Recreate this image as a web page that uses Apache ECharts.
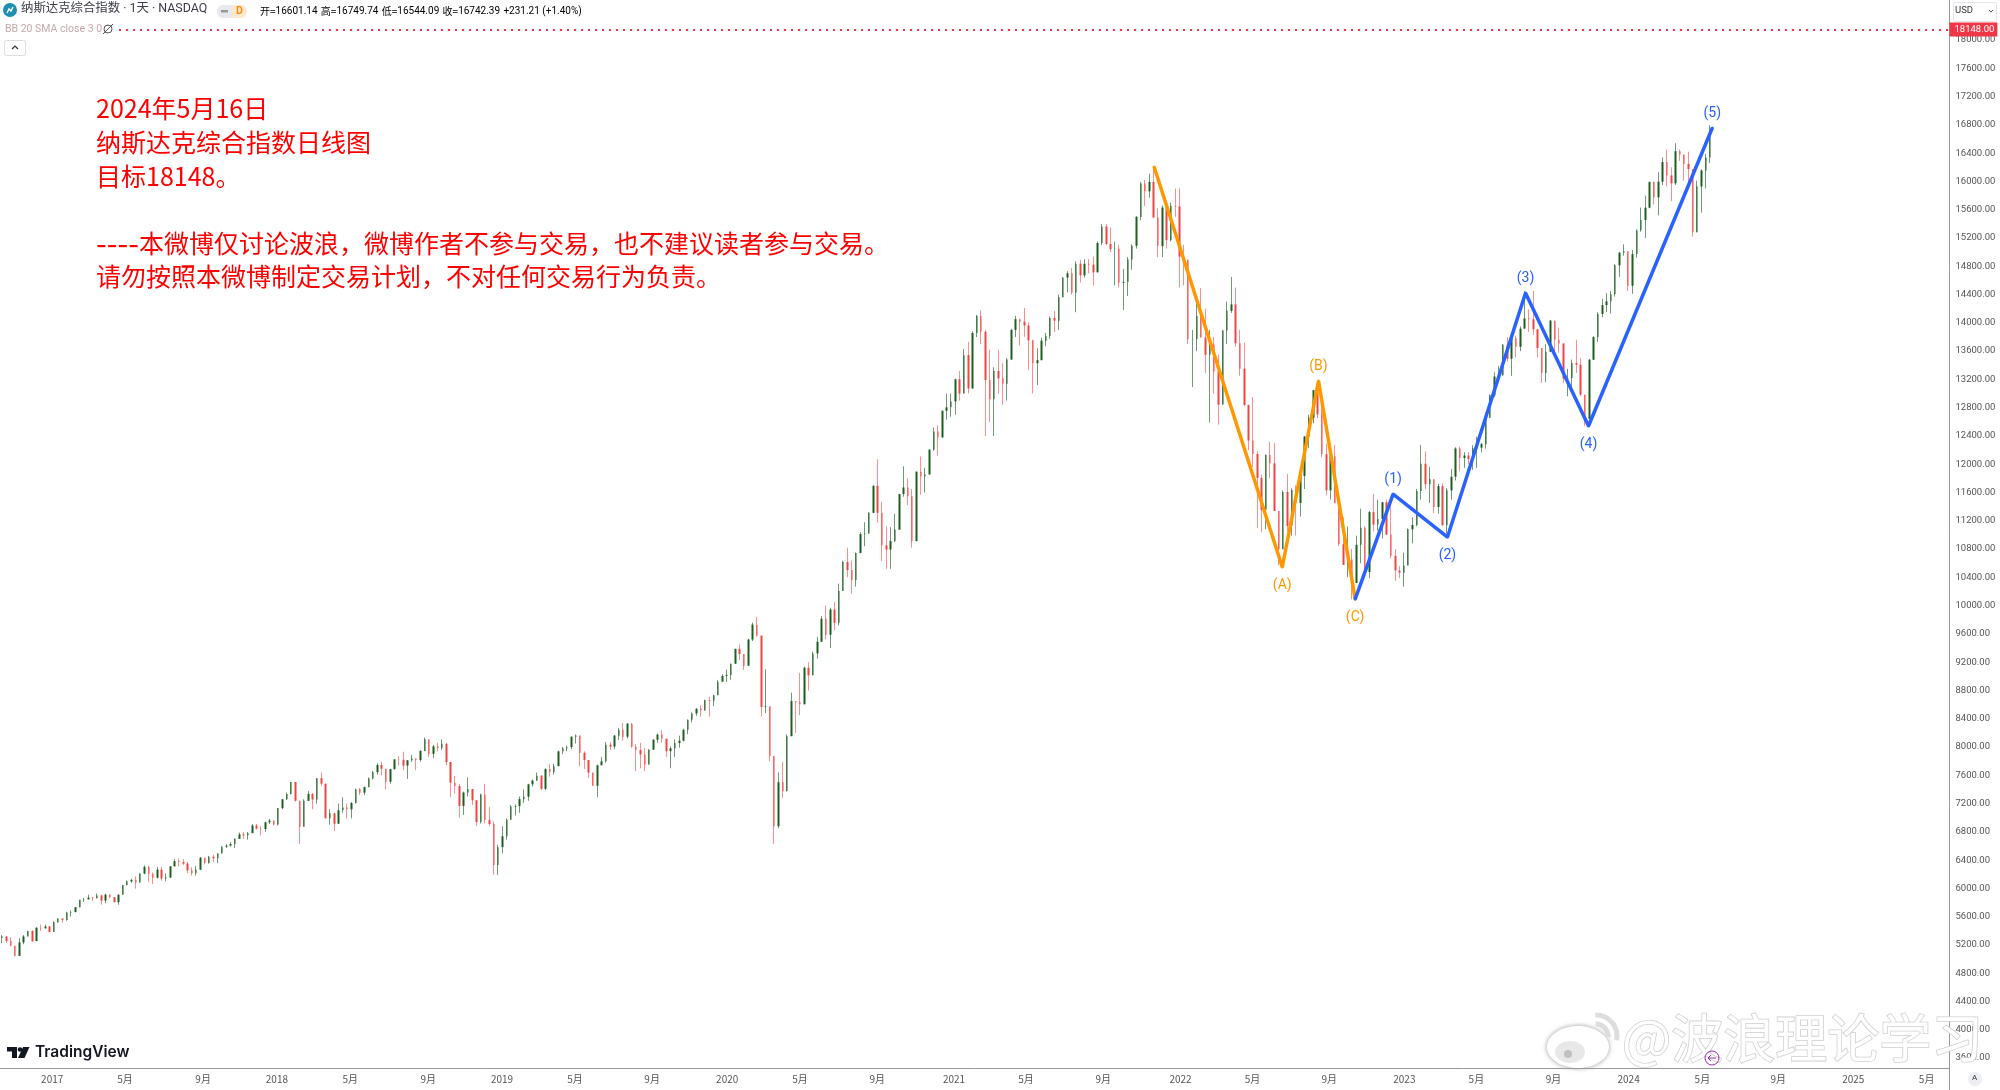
<!DOCTYPE html>
<html><head><meta charset="utf-8">
<style>html,body{margin:0;padding:0;background:#fff}#c{width:2000px;height:1090px}</style>
<script src="https://cdn.jsdelivr.net/npm/echarts@6/dist/echarts.min.js"></script>
</head><body><div id="c"></div>
<script>
// weekly bars; first Monday 2016-10-10
const firstOpen = 5300;
const close2016=[5320,5257,5190,5046,5237,5321,5398,5255,5444,5437,5462,5383];
const high2016=[5340,5320,5310,5190,5300,5340,5400,5410,5450,5490,5487,5470];
const low2016=[5225,5230,5180,5034,5060,5210,5340,5240,5260,5400,5430,5380];
const close2017=[5521,5574,5555,5660,5666,5734,5838,5845,5870,5861,5901,5828,5911,5877,5805,5910,6047,6100,6121,6083,6210,6305,6207,6151,6265,6140,6153,6312,6387,6374,6351,6256,6216,6265,6435,6360,6448,6426,6495,6590,6606,6629,6701,6764,6751,6782,6889,6847,6840,6936,6959,6903];
const high2017=[5536,5577,5574,5670,5690,5736,5840,5866,5911,5876,5928,5915,5928,5920,5868,5917,6050,6113,6137,6170,6212,6325,6317,6226,6303,6304,6212,6316,6411,6422,6415,6375,6301,6316,6444,6401,6459,6475,6499,6596,6625,6654,6708,6790,6795,6799,6911,6914,6880,6945,6985,6960];
const low2017=[5398,5514,5517,5543,5602,5660,5738,5810,5847,5820,5858,5769,5790,5860,5804,5770,5965,6040,6080,5996,6090,6200,6090,6060,6140,6110,6100,6150,6330,6310,6330,6216,6180,6180,6280,6340,6350,6370,6360,6500,6570,6590,6570,6720,6700,6690,6800,6830,6750,6800,6910,6890];
const close2018=[7136,7261,7336,7505,7240,6874,7239,7337,7257,7560,7481,6992,7063,6915,7106,7146,7119,7209,7402,7354,7433,7554,7645,7746,7692,7510,7688,7825,7820,7737,7812,7839,7816,7945,8109,7903,8010,7986,8046,7788,7496,7449,7167,7356,7406,7247,6938,7330,6969,6910,6333,6584,6738];
const high2018=[7137,7265,7356,7506,7480,7240,7260,7380,7350,7560,7637,7460,7120,7070,7200,7290,7200,7220,7410,7420,7440,7570,7660,7770,7790,7660,7690,7830,7870,7933,7815,7890,7830,7955,8135,8110,8030,8060,8110,8060,7790,7590,7480,7370,7570,7360,7190,7340,7480,7150,6950,6620,6880];
const low2018=[6890,7120,7250,7330,7230,6630,6890,7250,7120,7200,7450,6990,6900,6810,6990,7070,6990,6990,7200,7320,7320,7430,7540,7610,7600,7400,7480,7680,7740,7670,7550,7790,7670,7790,7940,7860,7840,7940,7960,7740,7290,7340,7000,7040,7300,7180,6880,6920,6920,6880,6190,6190,6500];
const close2019=[6971,7157,7164,7263,7298,7472,7527,7595,7408,7688,7642,7729,7939,7984,7998,8146,8164,7917,7816,7637,7453,7742,7797,8032,8006,8161,8244,8146,8330,8004,7959,7895,7751,7963,8103,8176,8117,7940,7982,8057,8089,8243,8386,8475,8540,8519,8665,8656,8734,8924,9006,9020];
const high2019=[6990,7180,7190,7300,7400,7480,7540,7640,7600,7700,7760,7760,7950,8000,8020,8150,8176,8040,7940,7780,7640,7750,7860,8070,8070,8170,8270,8340,8340,8340,8040,8060,7990,7970,8110,8190,8240,8050,8010,8110,8160,8260,8390,8490,8550,8590,8670,8710,8740,8950,9030,9095];
const low2019=[6690,6970,7030,7070,7210,7240,7440,7520,7390,7390,7580,7610,7780,7900,7940,7970,8050,7730,7690,7560,7450,7290,7750,7780,7960,7970,8100,8090,8120,7990,7660,7700,7660,7790,7960,8060,8060,7860,7700,7860,7990,8080,8180,8350,8440,8430,8510,8430,8580,8740,8930,8920];
const close2020=[9178,9388,9314,9150,9520,9731,9576,8567,8575,7874,6879,7502,7373,8153,8650,8634,8604,9121,9014,9324,9489,9814,9588,9946,9757,10207,10617,10503,10363,10745,11011,11019,11312,11695,11313,10853,10793,10913,11075,11579,11671,11548,10912,11895,11829,11855,12206,12464,12378,12756,12805,12888];
const high2020=[9180,9390,9450,9310,9530,9760,9840,9420,9100,8340,7620,7640,7790,8180,8770,8640,9050,9140,9200,9350,9560,9850,10000,9970,10050,10310,10630,10820,10640,10750,11040,11180,11320,11700,12070,11470,11120,11110,11300,11580,11970,11800,11650,11890,12110,11950,12210,12520,12550,12760,13000,13000];
const low2020=[8950,9190,9230,9090,9240,9500,9560,8430,8480,7800,6630,6850,7280,7400,8330,8200,8450,8700,8800,9150,9250,9500,9520,9400,9650,9720,10230,10400,10170,10270,10740,10840,11060,11320,11170,10630,10520,10520,10900,11140,11540,11420,10820,11020,11570,11600,11930,12190,12120,12520,12630,12670];
const close2021=[13202,12999,13543,13071,13856,14095,13874,13192,12920,13319,13215,13138,13480,13900,14052,14016,13962,13752,13429,13471,13748,13814,14069,14030,14360,14639,14701,14427,14836,14672,14835,14822,14714,15129,15363,15115,15043,15047,14566,14579,14897,15090,15498,15971,15860,15993,15491,15085,15630,15169,15653,15645];
const high2021=[13210,13320,13630,13730,13880,14110,14175,13900,13620,13370,13620,13430,13500,13910,14100,14060,14210,14010,13760,13640,13790,13860,14090,14170,14400,14650,14730,14780,14870,14890,14900,14900,14940,15150,15400,15400,15350,15150,15100,14760,14930,15110,15510,15990,16020,16110,16210,15620,15660,15660,15700,15900];
const low2021=[12700,12900,13000,13000,13200,13800,13700,12400,12600,12400,13000,12840,12900,13500,13800,13680,13800,13330,13000,13120,13480,13670,13770,13870,13900,14360,14430,14400,14150,14570,14640,14700,14530,14730,15100,15100,15000,14530,14500,14180,14380,14750,15050,15450,15650,15770,15480,14930,14930,15050,15150,15500];
const close2022=[14936,14893,13768,13770,14098,13791,13548,13694,13313,12843,13893,14169,14261,13711,13351,12839,12335,12145,11805,11355,12131,12013,11340,10798,11608,11128,11635,11452,11834,12391,12658,13047,12705,12141,11631,12112,11448,10868,10576,10652,10321,10860,11103,10475,11323,11146,11226,11462,11005,10705,10497,10466];
const high2022=[15900,15100,14600,13900,14300,14490,14200,13900,13800,13550,13900,14300,14650,14500,13900,13720,12750,12950,12180,11850,12140,12320,12300,11340,11630,11860,11660,11700,11860,12400,12700,13050,13180,12800,12290,12270,12270,11430,11250,11120,10800,10990,11370,11120,11340,11580,11500,11470,11500,11470,10800,10560];
const low2022=[14500,14530,13700,13090,13600,13790,13290,12590,13000,12560,12870,13700,14140,13660,13250,12820,12200,11960,11100,11040,11080,11800,11340,10570,10840,11050,10990,10990,11260,11650,12230,12580,12650,12100,11560,11500,11450,10840,10620,10400,10090,10370,10600,10390,10390,11050,11060,10950,11000,10670,10350,10390];
const close2023=[10569,11079,11140,11622,12006,11718,11787,11395,11689,11138,11631,11823,12222,12088,12123,12072,12226,12235,12284,12657,12975,13240,13259,13689,13492,13787,13660,13918,14063,14050,13909,13644,13290,13590,14031,13761,13708,13212,13219,13431,13407,12983,12643,13478,13798,14125,14250,14305,14403,14813,14992,15011];
const high2023=[10750,11090,11250,11650,12270,12180,11960,11580,11720,11730,11660,11930,12240,12250,12170,12170,12270,12390,12300,12730,12990,13300,13390,13700,13800,13820,13820,13950,14450,14190,14450,13900,13480,13700,14040,14020,13930,13600,13350,13480,13760,13500,12880,13490,13810,14150,14340,14420,14450,14830,15000,15110];
const low2023=[10270,10570,10880,11120,11500,11650,11450,11310,11300,11120,11020,11500,11770,11900,11950,12000,11920,11950,12170,12220,12700,12950,13200,13250,13450,13250,13510,13600,13940,13870,13830,13510,13150,13160,13620,13560,13580,13150,12960,13060,13290,12960,12540,12700,13500,13730,14080,14150,14130,14370,14650,14950];
const close2024=[14524,14972,15311,15455,15628,15990,15775,15996,16274,16085,15973,16428,16379,16248,16175,15282,15928,16156,16340,16686];
const high2024=[15000,15030,15320,15630,15800,16000,16000,16130,16340,16450,16200,16540,16450,16300,16420,16170,16010,16170,16390,16795];
const low2024=[14450,14410,14920,15290,15200,15620,15670,15520,15950,15930,15720,15950,16290,16010,16000,15220,15280,15560,15900,16260];

const yTickValues=[18000,17600,17200,16800,16400,16000,15600,15200,14800,14400,14000,13600,13200,12800,12400,12000,11600,11200,10800,10400,10000,9600,9200,8800,8400,8000,7600,7200,6800,6400,6000,5600,5200,4800,4400,4000,3600];
const xTickLabels=['2017','5月','9月','2018','5月','9月','2019','5月','9月','2020','5月','9月','2021','5月','9月','2022','5月','9月','2023','5月','9月','2024','5月','9月','2025','5月'];
const xTickWeeks=[11.6,28.5,46.6,63.7,80.7,98.8,115.9,132.8,150.7,168.1,185,202.9,220.7,237.4,255.3,273.2,289.9,307.7,325.1,341.8,359.7,377.1,394.2,411.8,429.2,446.2];

const orangeWeeks=[267.1,296.8,305.2,313.7];
const orangeValues=[16204,10546,13177,10093];
const orangeNames=['','(A)','(B)','(C)'];
const orangeSides=['top','bottom','top','bottom'];
const blueWeeks=[313.7,322.5,335.1,353.2,367.8,396.5];
const blueValues=[10093,11578,10970,14421,12540,16755];
const blueNames=['','(1)','(2)','(3)','(4)','(5)'];
const blueSides=['top','top','bottom','top','bottom','top'];

const targetValue=18148;
const noteLines=['2024年5月16日','纳斯达克综合指数日线图','目标18148。','','----本微博仅讨论波浪，微博作者不参与交易，也不建议读者参与交易。','请勿按照本微博制定交易计划，不对任何交易行为负责。'];

const totalWeeks=452;
const closes=[].concat(close2016,close2017,close2018,close2019,close2020,close2021,close2022,close2023,close2024);
const highs=[].concat(high2016,high2017,high2018,high2019,high2020,high2021,high2022,high2023,high2024);
const lows=[].concat(low2016,low2017,low2018,low2019,low2020,low2021,low2022,low2023,low2024);
if(closes.length!==highs.length||closes.length!==lows.length) throw new Error('len '+closes.length+' '+highs.length+' '+lows.length);
const cats=[];
for(let i=0;i<totalWeeks;i++){cats.push(new Date(Date.UTC(2016,9,10+7*i)).toISOString().slice(0,10));}
const wicks=[],bodies=[];
closes.forEach((c,i)=>{
  const o=i?closes[i-1]:firstOpen;
  const h=Math.max(highs[i],o,c),l=Math.min(lows[i],o,c);
  wicks.push([o,c,l,h]);
  bodies.push([o,c,Math.min(o,c),Math.max(o,c)]);
});
const mk=(xs,vs,names,sides,col)=>xs.map((x,i)=>({value:[x,vs[i]],label:{show:!!names[i],formatter:names[i]||'',position:sides[i],distance:sides[i]==='bottom'?9.5:6.5,color:col,fontSize:14,fontFamily:'Roboto,sans-serif'}}));
const FONT='"Noto Sans CJK SC",Roboto,sans-serif';
const chart=echarts.init(document.getElementById('c'),null,{renderer:'canvas'});
const noteRich=noteLines.map(l=>l.replace(/^-+/,m=>'{h|'+m+'}')).join('\n');
const G=[
 // header
 {type:'rect',z:50,shape:{x:0,y:0,width:116,height:36},style:{fill:'#fff'}},
 {type:'circle',z:51,shape:{cx:10,cy:10,r:7},style:{fill:'#1e8fb0'}},
 {type:'polyline',z:52,shape:{points:[[7,13],[9,9],[11,11],[13,7]]},style:{stroke:'#fff',lineWidth:1.4,fill:null}},
 {type:'text',z:51,x:21,y:3,style:{text:'纳斯达克综合指数 · 1天 · NASDAQ',font:'12.4px Roboto,"Noto Sans CJK SC",sans-serif',fill:'#3a3d47'}},
 {type:'rect',z:51,shape:{x:217,y:5,width:30,height:13,r:6.5},style:{fill:'#fde9cf'}},
 {type:'rect',z:52,shape:{x:217,y:5,width:15,height:13,r:[6.5,0,0,6.5]},style:{fill:'#e8e9ee'}},
 {type:'rect',z:53,shape:{x:221,y:10,width:7,height:2.5},style:{fill:'#999'}},
 {type:'text',z:53,x:236,y:6,style:{text:'D',font:'600 10.5px Roboto',fill:'#ff8a00'}},
 {type:'text',z:51,x:260,y:5,style:{text:'{g|开=}{v|16601.14} {g|高=}{v|16749.74} {g|低=}{v|16544.09} {g|收=}{v|16742.39} {v|+231.21 (+1.40%)}',rich:{g:{fontSize:10,color:'#555',fontFamily:FONT},v:{fontSize:10,color:'#2a7d46',fontFamily:'Roboto'}}}},
 {type:'text',z:51,x:5,y:24,style:{text:'BB 20 SMA close 3 0',font:'10.5px Roboto',fill:'#c4a8ac'}},
 {type:'circle',z:51,shape:{cx:108,cy:29,r:4},style:{fill:'none',stroke:'#555',lineWidth:1}},
 {type:'line',z:51,shape:{x1:103,y1:34,x2:113,y2:24},style:{stroke:'#555',lineWidth:1}},
 {type:'rect',z:51,shape:{x:4.5,y:40.5,width:21,height:15,r:2},style:{fill:'#fff',stroke:'#dcdde2'}},
 {type:'polyline',z:52,shape:{points:[[12,49],[15,46],[18,49]]},style:{stroke:'#333',lineWidth:1.2,fill:null}},
 // note
 {type:'text',z:40,x:96,y:92,style:{text:noteRich,font:'25px '+FONT,lineHeight:33.6,fill:'#ff0000',rich:{h:{fontSize:31,fontFamily:'"Noto Sans CJK SC"',lineHeight:33.6,fill:'#ff0000'}}}},
 // usd
 {type:'rect',z:51,shape:{x:1953.5,y:2.5,width:43,height:19,r:2},style:{fill:'#fff',stroke:'#e3e5ec'}},
 {type:'text',z:52,x:1955,y:6,style:{text:'USD',font:'9.5px Roboto',fill:'#333'}},
 {type:'polyline',z:52,shape:{points:[[1989,10],[1991,12],[1993,10]]},style:{stroke:'#555',fill:null,lineWidth:1}},
 // bottom furniture
 {type:'line',z:30,shape:{x1:1949.5,y1:1068,x2:1949.5,y2:1090},style:{stroke:'#9a9a9e',lineWidth:1}},
 {type:'circle',z:30,shape:{cx:1975,cy:1079,r:7},style:{fill:'#eceef4'}},
 {type:'text',z:31,x:1972,y:1074,style:{text:'A',font:'8px Roboto',fill:'#333'}},
 // tradingview
 {type:'polygon',z:31,shape:{points:[[7,1047],[17,1047],[17,1058],[12,1058],[12,1051.5],[7,1051.5]]},style:{fill:'#131722'}},
 {type:'circle',z:31,shape:{cx:20,cy:1049.5,r:2.3},style:{fill:'#131722'}},
 {type:'polygon',z:31,shape:{points:[[23,1047],[29.5,1047],[24.5,1058],[18,1058]]},style:{fill:'#131722'}},
 {type:'text',z:31,x:35,y:1044,style:{text:'TradingView',font:'600 15.5px Inter,Roboto',fill:'#131722'}},
 // watermark logo
 {type:'ellipse',z:60,shape:{cx:1578,cy:1047,rx:31,ry:21},style:{fill:'#fff',shadowBlur:5,shadowColor:'#999'}},
 {type:'ellipse',z:61,shape:{cx:1570,cy:1052,rx:15,ry:11},style:{fill:'#e8e8e8'}},
 {type:'circle',z:62,shape:{cx:1568,cy:1054,r:4},style:{fill:'#c0c0c0'}},
 {type:'arc',z:61,shape:{cx:1596,cy:1036,r:12,startAngle:-1.6,endAngle:0.1},style:{stroke:'#ddd',fill:null,lineWidth:5}},
 {type:'arc',z:61,shape:{cx:1596,cy:1036,r:21,startAngle:-1.6,endAngle:0.2},style:{stroke:'#ddd',fill:null,lineWidth:5}},
 {type:'text',z:62,x:1622,y:1012,style:{text:'@波浪理论学习',font:'52px '+FONT,fill:'#fff',stroke:'#cfcfcf',lineWidth:1.6}},
 // pane marker
 {type:'circle',z:70,shape:{cx:1712,cy:1058,r:7},style:{fill:'none',stroke:'#9c27b0',lineWidth:1}},
 {type:'polyline',z:70,shape:{points:[[1711,1055],[1708,1058],[1711,1061]]},style:{stroke:'#9c27b0',fill:null,lineWidth:1}},
 {type:'line',z:70,shape:{x1:1708,y1:1058,x2:1716,y2:1058},style:{stroke:'#9c27b0',lineWidth:1}}
];
chart.setOption({
 animation:false,backgroundColor:'#fff',
 grid:{left:0,right:50.5,top:0,bottom:22,containLabel:false},
 xAxis:[
  {type:'category',data:cats,show:false,boundaryGap:true},
  {type:'value',min:-0.5,max:totalWeeks-0.5,position:'bottom',
   axisLine:{show:true,onZero:false,lineStyle:{color:'#9a9a9e',width:1}},axisTick:{show:false},splitLine:{show:false},
   axisLabel:{customValues:xTickWeeks,margin:6,fontSize:10,fontFamily:FONT,hideOverlap:false,showMinLabel:true,showMaxLabel:true,color:'#555',
    formatter:v=>xTickLabels[xTickWeeks.indexOf(v)]}}
 ],
 yAxis:{type:'value',position:'right',min:3460,max:18566,
  axisLine:{show:true,onZero:false,lineStyle:{color:'#9a9a9e',width:1}},axisTick:{show:false},splitLine:{show:false},
  axisLabel:{customValues:yTickValues,formatter:v=>v.toFixed(2),margin:6,fontSize:9.5,color:'#555',fontFamily:'Roboto',hideOverlap:false,padding:[3,0,0,0]}},
 graphic:{elements:G},
 series:[
  {name:'range',type:'candlestick',xAxisIndex:0,yAxisIndex:0,data:wicks,barWidth:1,z:2,silent:true,
   itemStyle:{color:'#6e9a74',color0:'#ff8f8f',borderColor:'#6e9a74',borderColor0:'#ff8f8f',borderWidth:1}},
  {name:'body',type:'candlestick',xAxisIndex:0,yAxisIndex:0,data:bodies,barWidth:2,z:3,silent:true,
   itemStyle:{color:'#1b5e20',color0:'#ef4444',borderColor:'#1b5e20',borderColor0:'#ef4444',borderWidth:0},
   markLine:{silent:true,symbol:'none',animation:false,
    data:[{yAxis:targetValue}],
    lineStyle:{color:'#f23645',type:[2,5],width:2},
    label:{show:true,position:'end',distance:0,formatter:'18148.00',color:'#fff',backgroundColor:'#f23645',padding:[2,3,2,5],fontSize:9.5,fontFamily:'Roboto'}}},
  {name:'abc',type:'line',xAxisIndex:1,yAxisIndex:0,symbol:'circle',symbolSize:3,showSymbol:true,showAllSymbol:true,z:5,silent:true,
   data:mk(orangeWeeks,orangeValues,orangeNames,orangeSides,'#ff9800'),lineStyle:{color:'#ff9800',width:3.5},itemStyle:{color:'#ff9800'}},
  {name:'impulse',type:'line',xAxisIndex:1,yAxisIndex:0,symbol:'circle',symbolSize:3,showSymbol:true,showAllSymbol:true,z:6,silent:true,
   data:mk(blueWeeks,blueValues,blueNames,blueSides,'#2962ff'),lineStyle:{color:'#2962ff',width:3.5},itemStyle:{color:'#2962ff'}}
 ]
});
</script></body></html>
